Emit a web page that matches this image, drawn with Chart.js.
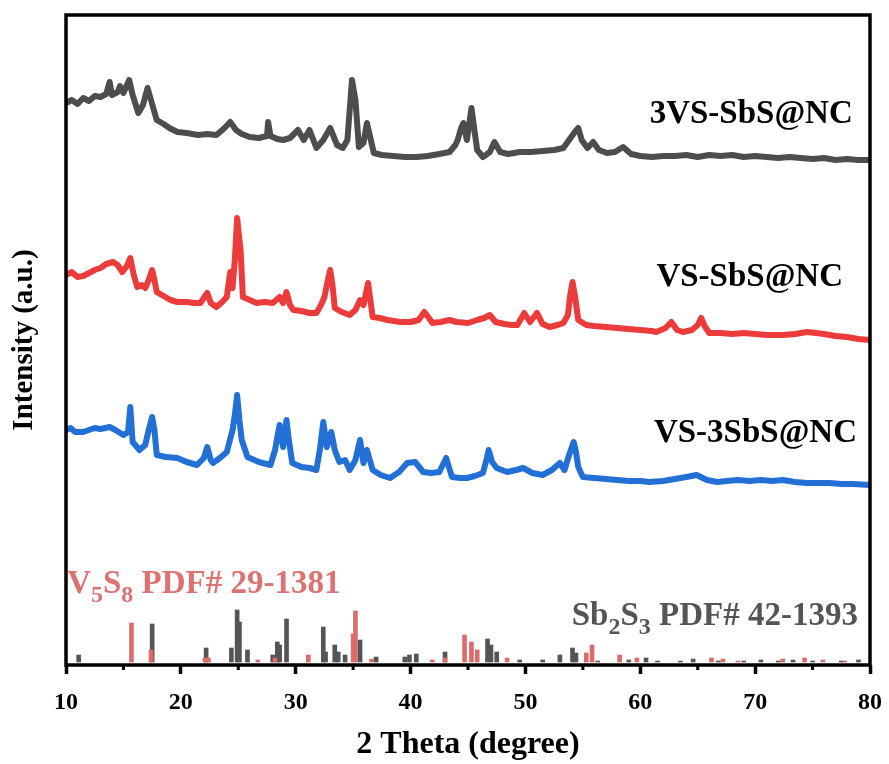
<!DOCTYPE html>
<html>
<head>
<meta charset="utf-8">
<script src="https://cdn.jsdelivr.net/npm/chart.js@4"></script>
<style>
  html, body { margin: 0; padding: 0; background: #fff; }
  #wrap { width: 889px; height: 764px; position: relative; }
</style>
</head>
<body>
<div id="wrap"><canvas id="chart"></canvas></div>
<script>
// 3VS-SbS@NC (top, gray)
const theta3VS = [10, 10.5, 11, 11.5, 12, 12.5, 13, 13.5, 13.8, 14, 14.5, 14.7, 15, 15.5, 15.8, 16.3, 16.7, 17.1, 17.4, 17.9, 18.5, 19, 19.7, 20.5, 21.5, 22.3, 23.1, 23.8, 24.3, 24.8, 25.3, 26, 26.8, 27.5, 27.6, 27.8, 28.4, 28.9, 29.5, 30.2, 30.7, 31.2, 31.8, 32.4, 33, 33.6, 34.1, 34.5, 34.9, 35.2, 35.5, 35.9, 36.2, 36.5, 36.8, 37.5, 38.5, 39.5, 40.5, 41.5, 42.5, 43.4, 43.9, 44.1, 44.4, 44.6, 44.9, 45.1, 45.3, 45.5, 45.8, 46.3, 46.9, 47.3, 47.8, 48.5, 49.5, 50.5, 51.5, 52.5, 53.3, 53.8, 54.3, 54.6, 54.9, 55.4, 55.9, 56.4, 57.1, 57.8, 58.5, 59.2, 60, 61, 62, 63, 64, 65, 66, 67, 68, 69, 70, 71, 72, 73, 74, 75, 76, 77, 78, 79, 80];
const int3VS = [562, 565, 561, 567, 564, 569, 568, 571, 583, 570, 573, 579, 572, 585, 570, 552, 560, 577, 565, 545, 541, 537, 533, 532, 530, 531, 530, 537, 543, 535, 531, 528, 527, 529, 543, 529, 526, 525, 527, 535, 525, 535, 517, 525, 537, 520, 517, 525, 585, 565, 518, 522, 542, 527, 512, 510, 509, 508, 508, 509, 511, 513, 520, 525, 537, 542, 525, 540, 557, 540, 515, 508, 513, 523, 513, 511, 513, 513, 514, 515, 517, 525, 533, 537, 525, 517, 523, 515, 512, 513, 518, 511, 509, 508, 509, 509, 510, 508, 510, 509, 510, 508, 509, 508, 507, 508, 507, 506, 507, 505, 506, 505, 505];

// VS-SbS@NC (middle, red)
const thetaVS = [10, 10.5, 11, 11.5, 12, 12.5, 13, 13.5, 14.1, 14.5, 14.9, 15.3, 15.6, 15.9, 16.2, 16.6, 16.9, 17.2, 17.5, 17.7, 17.9, 18.5, 19.1, 19.7, 20.5, 21.2, 21.7, 22.3, 22.6, 23.1, 23.6, 24, 24.3, 24.5, 24.7, 24.9, 25.1, 25.2, 25.4, 26, 26.6, 27.3, 28, 28.6, 28.9, 29.2, 29.5, 29.8, 30.5, 31.2, 31.8, 32.2, 32.5, 32.8, 33, 33.2, 33.4, 34, 34.7, 35.2, 35.6, 35.9, 36.3, 36.5, 36.7, 37.3, 38, 39.1, 40, 40.7, 41.2, 41.6, 41.9, 42.6, 43.4, 44, 45, 45.8, 46.4, 46.9, 47.4, 48.2, 48.8, 49.3, 49.9, 50.4, 51, 51.5, 52.1, 52.8, 53.3, 53.7, 53.9, 54.1, 54.3, 54.6, 55.3, 56, 57, 58, 59, 60, 61, 61.4, 62.2, 62.7, 63.2, 63.7, 64.5, 65, 65.3, 65.6, 66, 67, 68, 69, 70, 71, 72.4, 73.5, 74.5, 75.3, 76, 77, 78, 79, 80];
const intVS = [390, 393, 388, 389, 392, 395, 397, 401, 403, 400, 393, 399, 407, 390, 378, 380, 377, 385, 395, 385, 373, 369, 365, 363, 363, 362, 362, 372, 362, 358, 363, 368, 393, 377, 405, 447, 425, 415, 368, 365, 362, 363, 362, 368, 362, 373, 360, 355, 354, 352, 352, 360, 368, 385, 395, 380, 357, 353, 350, 355, 365, 360, 382, 365, 348, 347, 345, 343, 343, 345, 353, 347, 342, 343, 345, 343, 342, 345, 347, 350, 343, 341, 340, 340, 352, 343, 352, 341, 338, 340, 342, 350, 370, 383, 370, 345, 340, 339, 338, 337, 336, 335, 334, 333, 337, 343, 335, 333, 335, 340, 347, 339, 332, 332, 331, 332, 331, 330, 330, 331, 333, 332, 331, 329, 328, 326, 325];

// VS-3SbS@NC (lower, blue)
const theta3Sb = [10, 10.4, 10.8, 11.5, 12, 12.5, 13, 13.8, 14.3, 15, 15.4, 15.6, 15.8, 16.4, 16.9, 17.2, 17.5, 17.7, 17.9, 18.7, 19.7, 20.5, 21.4, 22, 22.3, 22.6, 22.8, 23.4, 24, 24.5, 24.7, 24.9, 25.1, 25.3, 25.8, 26.8, 27.8, 28.2, 28.4, 28.6, 28.9, 29.2, 29.4, 29.7, 30.5, 31.2, 31.8, 32.1, 32.4, 32.7, 33.1, 33.4, 33.8, 34.3, 34.7, 35.2, 35.6, 35.9, 36.2, 36.7, 37.4, 38.2, 39, 39.7, 40.4, 41.1, 41.8, 42.5, 43.1, 43.6, 44.3, 44.9, 45.6, 46.3, 46.6, 46.8, 47.1, 47.5, 48.4, 49.2, 49.8, 50.6, 51.5, 52.3, 53, 53.4, 53.8, 54.2, 54.4, 54.6, 55, 56, 57, 58, 59, 60, 60.8, 62, 63, 64, 64.9, 65.8, 66.7, 67.5, 68.5, 69.5, 70.5, 71.5, 72.4, 73.5, 74.5, 75.3, 76.5, 77.5, 78.5, 80];
const int3Sb = [235, 237, 233, 233, 235, 237, 236, 238, 235, 230, 233, 258, 223, 215, 220, 235, 248, 235, 210, 208, 207, 203, 200, 207, 218, 205, 202, 207, 213, 235, 250, 270, 245, 225, 208, 203, 200, 215, 228, 240, 218, 245, 225, 202, 198, 197, 195, 215, 243, 218, 233, 215, 203, 205, 195, 205, 225, 202, 215, 195, 190, 187, 193, 202, 203, 193, 192, 193, 207, 188, 187, 187, 189, 192, 205, 215, 203, 197, 193, 195, 197, 192, 190, 195, 202, 195, 210, 223, 213, 198, 188, 187, 186, 185, 184, 184, 183, 184, 186, 188, 190, 185, 183, 184, 185, 184, 185, 184, 185, 183, 182, 182, 182, 181, 181, 180];

// standard patterns (stick positions and heights)
const stickBase = 3;
const sb2s3Pos = [11.1, 17.5, 22.2, 24.4, 24.9, 25.1, 25.8, 28.0, 28.4, 28.6, 29.2, 32.4, 32.6, 33.4, 33.7, 34.3, 35.6, 37.0, 39.5, 39.9, 40.5, 43.0, 46.7, 47.0, 47.5, 49.5, 51.5, 53.0, 54.1, 54.4, 56.3, 59.0, 60.5, 61.5, 63.5, 64.6, 66.8, 69.0, 70.5, 72.0, 73.3, 75.0, 77.5, 79.0];
const sb2s3Int = [10, 41, 17, 17, 55, 43, 15, 10, 23, 20, 46, 38, 13, 20, 13, 10, 25, 8, 8, 10, 11, 13, 26, 20, 13, 5, 5, 10, 17, 12, 4, 5, 7, 4, 4, 6, 4, 4, 5, 4, 5, 4, 4, 5];
const v5s8Pos = [15.7, 17.4, 22.1, 22.4, 26.7, 28.2, 31.1, 35.0, 35.2, 36.6, 41.9, 43.0, 44.7, 45.3, 45.8, 48.4, 55.3, 55.8, 58.2, 59.7, 66.2, 67.2, 68.5, 72.4, 74.3, 75.9, 77.8];
const v5s8Int = [42, 15, 7, 7, 5, 7, 10, 31, 54, 6, 5, 7, 30, 23, 15, 7, 12, 20, 10, 7, 7, 6, 4, 6, 7, 5, 4];

const xMajor = [10, 20, 30, 40, 50, 60, 70, 80];
const xMinor = [15, 25, 35, 45, 55, 65, 75];

const toPoints = (xs, ys) => xs.map((x, i) => ({ x: x, y: ys[i] }));
const toSticks = (xs, hs) => xs.map((x, i) => ({ x: x, y: [stickBase, hs[i]] }));

const serif = '"Liberation Serif", "Times New Roman", serif';

// sample names, placed in data units
const sampleLabels = [
    { text: '3VS-SbS@NC', x: 78.5, y: 551 },
    { text: 'VS-SbS@NC', x: 77.65, y: 388 },
    { text: 'VS-3SbS@NC', x: 78.87, y: 232 }
];

function drawSubText(ctx, parts, x, y, align, color) {
    ctx.fillStyle = color;
    ctx.textBaseline = 'alphabetic';
    ctx.textAlign = 'left';
    let total = 0;
    parts.forEach(p => {
        ctx.font = 'bold ' + (p.sub ? 24 : 33) + 'px ' + serif;
        p.w = ctx.measureText(p.t).width;
        total += p.w;
    });
    let cx = align === 'right' ? x - total : x;
    parts.forEach(p => {
        ctx.font = 'bold ' + (p.sub ? 24 : 33) + 'px ' + serif;
        ctx.fillText(p.t, cx, p.sub ? y + 9 : y);
        cx += p.w;
    });
}

const framePlugin = {
    id: 'frame',
    afterDraw(chart) {
        const ctx = chart.ctx;
        const a = chart.chartArea;
        const x = chart.scales.x;
        const y = chart.scales.y;
        ctx.save();
        ctx.strokeStyle = '#000';
        ctx.lineWidth = 3.5;
        ctx.strokeRect(a.left, a.top, a.right - a.left, a.bottom - a.top);
        // minor ticks
        ctx.lineWidth = 3;
        xMinor.forEach(v => {
            const px = x.getPixelForValue(v);
            ctx.beginPath();
            ctx.moveTo(px, a.bottom);
            ctx.lineTo(px, a.bottom + 5);
            ctx.stroke();
        });
        // sample labels
        ctx.font = 'bold 33px ' + serif;
        ctx.fillStyle = '#000';
        ctx.textAlign = 'right';
        ctx.textBaseline = 'middle';
        sampleLabels.forEach(l => {
            ctx.fillText(l.text, x.getPixelForValue(l.x), y.getPixelForValue(l.y));
        });
        // reference pattern labels
        drawSubText(ctx, [{ t: 'V' }, { t: '5', sub: true }, { t: 'S' }, { t: '8', sub: true }, { t: ' PDF# 29-1381' }],
            x.getPixelForValue(10.1), y.getPixelForValue(72), 'left', '#dc7272');
        drawSubText(ctx, [{ t: 'Sb' }, { t: '2', sub: true }, { t: 'S' }, { t: '3', sub: true }, { t: ' PDF# 42-1393' }],
            x.getPixelForValue(78.95), y.getPixelForValue(40), 'right', '#555555');
        ctx.restore();
    }
};

const lineStyle = {
    type: 'line',
    pointRadius: 0,
    borderWidth: 6,
    tension: 0,
    fill: false,
    borderJoinStyle: 'round'
};

const ctx = document.getElementById('chart').getContext('2d');
const myChart = new Chart(ctx, {
    type: 'line',
    data: {
        datasets: [
            Object.assign({ label: '3VS-SbS@NC', data: toPoints(theta3VS, int3VS), borderColor: '#4d4d4d' }, lineStyle),
            Object.assign({ label: 'VS-SbS@NC', data: toPoints(thetaVS, intVS), borderColor: '#ec3b3b' }, lineStyle),
            Object.assign({ label: 'VS-3SbS@NC', data: toPoints(theta3Sb, int3Sb), borderColor: '#2270d6' }, lineStyle),
            {
                type: 'bar',
                label: 'V5S8',
                data: toSticks(v5s8Pos, v5s8Int),
                backgroundColor: '#dc6c6c',
                barThickness: 4,
                grouped: false,
                order: 0
            },
            {
                type: 'bar',
                label: 'Sb2S3',
                data: toSticks(sb2s3Pos, sb2s3Int),
                backgroundColor: '#555555',
                barThickness: 4,
                grouped: false,
                order: 1
            }
        ]
    },
    options: {
        responsive: true,
        maintainAspectRatio: false,
        animation: false,
        layout: { padding: { top: 15, right: 19, left: 0, bottom: 0 } },
        plugins: {
            legend: { display: false },
            tooltip: { enabled: false }
        },
        scales: {
            x: {
                type: 'linear',
                min: 10,
                max: 80,
                offset: false,
                afterBuildTicks: function(scale) {
                    scale.ticks = xMajor.map(v => ({ value: v }));
                },
                afterFit: function(scale) {
                    scale.height = 99;
                    scale.paddingLeft = 0;
                    scale.paddingRight = 0;
                },
                border: { display: false },
                grid: {
                    drawOnChartArea: false,
                    drawTicks: true,
                    tickLength: 9,
                    tickWidth: 3.5,
                    tickColor: '#000',
                    offset: false
                },
                ticks: {
                    color: '#000',
                    padding: 14,
                    font: { family: serif, size: 24, weight: 'bold' }
                },
                title: {
                    display: true,
                    text: '2 Theta (degree)',
                    color: '#000',
                    font: { family: serif, size: 32, weight: 'bold' },
                    padding: { top: 0, bottom: 0 }
                }
            },
            y: {
                type: 'linear',
                min: 0,
                max: 650,
                afterFit: function(scale) { scale.width = 66; },
                border: { display: false },
                grid: { display: false },
                ticks: { display: false },
                title: {
                    display: true,
                    text: 'Intensity (a.u.)',
                    color: '#000',
                    font: { family: serif, size: 29, weight: 'bold' },
                    padding: { top: 7, bottom: 0 }
                }
            }
        }
    },
    plugins: [framePlugin]
});
</script>
</body>
</html>
